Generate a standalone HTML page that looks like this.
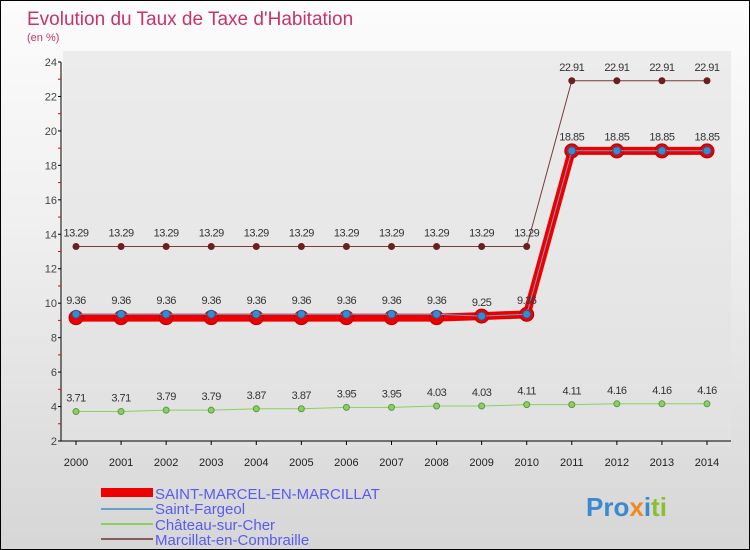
<!DOCTYPE html>
<html><head><meta charset="utf-8"><style>
body{margin:0}
#c{width:748px;height:548px;border:1px solid #000;position:relative;background:linear-gradient(#fcfcfc,#f0f0f0 40%,#d6d6d6);font-family:"Liberation Sans",sans-serif;overflow:hidden}
text{font-family:"Liberation Sans",sans-serif}
</style></head><body>
<div id="c">
<svg id="s" width="748" height="548" xmlns="http://www.w3.org/2000/svg">
<rect x="62" y="50" width="668" height="396" fill="#e2e2e2" opacity="0.6"/>
<text x="26" y="24" font-size="19" fill="#c8336a">Evolution du Taux de Taxe d'Habitation</text>
<text x="26" y="40" font-size="11" fill="#c8336a">(en %)</text>
<g id="axes"></g><g id="series"></g>
<g>
<rect x="100" y="487" width="52" height="9" fill="#e00"/>
<text x="154" y="498" font-size="15" fill="#5a5af0">SAINT-MARCEL-EN-MARCILLAT</text>
<rect x="100" y="507" width="52" height="2" fill="#6aa0c8"/>
<text x="154" y="513" font-size="15" fill="#5a5af0">Saint-Fargeol</text>
<rect x="100" y="522" width="52" height="2" fill="#8ad060"/>
<text x="154" y="529" font-size="15" fill="#5a5af0">Château-sur-Cher</text>
<rect x="100" y="537" width="52" height="2" fill="#8a5a5a"/>
<text x="154" y="544" font-size="15" fill="#5a5af0">Marcillat-en-Combraille</text>
</g>
<text x="585" y="515" font-size="26" font-weight="bold" fill="#3a8ad0">Pro<tspan fill="#f08a20">x</tspan><tspan fill="#3a8ad0">i</tspan><tspan fill="#8ac030">ti</tspan></text>
</svg></div>
<script>
const years=[2000,2001,2002,2003,2004,2005,2006,2007,2008,2009,2010,2011,2012,2013,2014];
const yTicks=[2,4,6,8,10,12,14,16,18,20,22,24];
const saintMarcel=[9.16,9.16,9.16,9.16,9.16,9.16,9.16,9.16,9.16,9.25,9.35,18.84,18.84,18.84,18.84];
const saintFargeol=[9.36,9.36,9.36,9.36,9.36,9.36,9.36,9.36,9.36,9.25,9.36,18.85,18.85,18.85,18.85];
const chateau=[3.71,3.71,3.79,3.79,3.87,3.87,3.95,3.95,4.03,4.03,4.11,4.11,4.16,4.16,4.16];
const marcillat=[13.29,13.29,13.29,13.29,13.29,13.29,13.29,13.29,13.29,13.29,13.29,22.91,22.91,22.91,22.91];
const NS="http://www.w3.org/2000/svg";
const X=i=>75+i*(706-75)/(years.length-1);
const Y=v=>440-(v-2)*(440-61)/22;
function mk(tag,attrs,parent,txt){const e=document.createElementNS(NS,tag);for(const k in attrs)e.setAttribute(k,attrs[k]);if(txt!==undefined)e.textContent=txt;parent.appendChild(e);return e;}
const ax=document.getElementById('axes');
const yl=mk('line',{x1:60,y1:61,x2:60,y2:440,stroke:'#000'},ax);


const xl=mk('line',{x1:60,y1:440,x2:730,y2:440,stroke:'#000'},ax);


yTicks.forEach(t=>{
 mk('line',{x1:57,y1:Y(t),x2:60,y2:Y(t),stroke:'#000'},ax);
 const tx=mk('text',{x:56,y:Y(t)+4,'font-size':11,fill:'#444','text-anchor':'end'},ax,t);
 
 
 if(t<24)mk('line',{x1:57,y1:Y(t+1),x2:60,y2:Y(t+1),stroke:'#e00'},ax);
});
years.forEach((y,i)=>{
 mk('line',{x1:X(i),y1:440,x2:X(i),y2:444,stroke:'#000'},ax);
 const tx=mk('text',{x:X(i),y:465,'font-size':11,fill:'#222','text-anchor':'middle'},ax,y);
 
 
});
const sg=document.getElementById('series');
function series(name,data,color,width,r,dot,dotStroke,labels){
 const g=mk('g',{},sg);
 
 
 const pl=mk('polyline',{points:data.map((v,i)=>X(i)+','+Y(v)).join(' '),fill:'none',stroke:color,'stroke-width':width},g);
 
 
 data.forEach((v,i)=>{
  const c=mk('circle',{cx:X(i),cy:Y(v),r:r,fill:dot,stroke:dotStroke,'stroke-width':1},g);
  
  
  if(labels){const t=mk('text',{x:X(i),y:Y(v)-10,'font-size':11,fill:'#333','text-anchor':'middle','letter-spacing':'-0.5'},g,v);
  
  }
 });
}
series('marcillat-series',marcillat,'#7a3a3a',1,3,'#6a2020','#6a2020',true);
series('chateau-series',chateau,'#8ad060',1,3,'#8ad060','#5a9a40',true);
series('saint-marcel-series',saintMarcel,'#e00',8,7,'#e00','#b00',false);
series('saint-fargeol-series',saintFargeol,'#6aa0c8',1,4,'#3a8ad0','#2a5a90',true);
</script>
</body></html>
